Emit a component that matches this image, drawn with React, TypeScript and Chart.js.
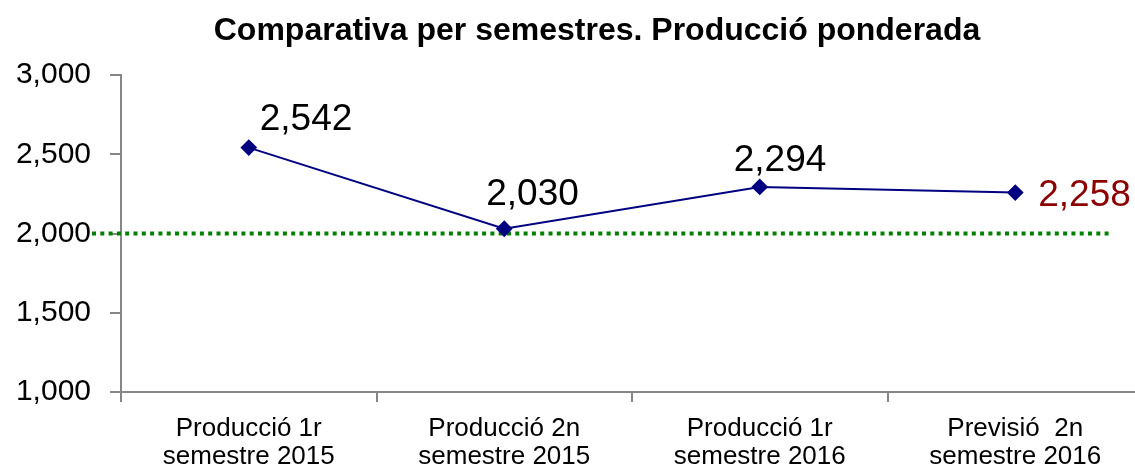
import React, { useEffect, useRef } from "react";
import { Chart, registerables } from "chart.js";

Chart.register(...registerables);

const categories: string[][] = [
  ["Producció 1r", "semestre 2015"],
  ["Producció 2n", "semestre 2015"],
  ["Producció 1r", "semestre 2016"],
  ["Previsió  2n", "semestre 2016"],
];
const values: number[] = [2542, 2030, 2294, 2258];
const referenceValue = 2000;
const yTicks: number[] = [1000, 1500, 2000, 2500, 3000];
const titleText = "Comparativa per semestres. Producció ponderada";

// label placement (style only)
const labelPlacement = [
  { dx: 11, dy: -18, color: "#000000" },
  { dx: -18, dy: -24, color: "#000000" },
  { dx: -26, dy: -16, color: "#000000" },
  { dx: 23, dy: 13, color: "#8B0000" },
];

const FONT = "'Liberation Sans', Arial, sans-serif";
const fmt = (v: number) => v.toLocaleString("en-US");

export default function App() {
  const ref = useRef<HTMLCanvasElement | null>(null);

  useEffect(() => {
    if (!ref.current) return;

    const titlePlugin = {
      id: "customTitle",
      afterDraw(chart: any) {
        const { ctx, chartArea } = chart;
        ctx.save();
        ctx.font = `bold 32px ${FONT}`;
        ctx.fillStyle = "#000000";
        ctx.textAlign = "center";
        ctx.textBaseline = "alphabetic";
        ctx.fillText(titleText, (chartArea.left + chartArea.right) / 2 - 35, 40);
        ctx.restore();
      },
    };

    const refLine = {
      id: "refLine",
      beforeDatasetsDraw(chart: any) {
        const { ctx, chartArea, scales } = chart;
        const y = scales.y.getPixelForValue(referenceValue);
        ctx.save();
        ctx.strokeStyle = "#008000";
        ctx.lineWidth = 4;
        ctx.setLineDash([4, 4.3]);
        ctx.beginPath();
        ctx.moveTo(chartArea.left - 29, y);
        ctx.lineTo(chartArea.right - 34, y);
        ctx.stroke();
        ctx.restore();
      },
    };

    const dataLabels = {
      id: "dataLabels",
      afterDatasetsDraw(chart: any) {
        const { ctx } = chart;
        const meta = chart.getDatasetMeta(0);
        ctx.save();
        ctx.font = `37px ${FONT}`;
        ctx.textBaseline = "alphabetic";
        ctx.textAlign = "left";
        meta.data.forEach((pt: any, i: number) => {
          const p = labelPlacement[i];
          ctx.fillStyle = p.color;
          ctx.fillText(fmt(values[i]), pt.x + p.dx, pt.y + p.dy);
        });
        ctx.restore();
      },
    };

    const chart = new Chart(ref.current, {
      type: "line",
      data: {
        labels: categories,
        datasets: [
          {
            data: values,
            borderColor: "#000080",
            backgroundColor: "#000080",
            borderWidth: 2,
            pointStyle: "rectRot",
            pointRadius: 7,
            pointBackgroundColor: "#000080",
            pointBorderColor: "#000080",
            tension: 0,
          },
        ],
      },
      options: {
        responsive: false,
        animation: false,
        layout: { padding: { left: 0, right: 17, top: 75, bottom: 0 } },
        plugins: {
          legend: { display: false },
          tooltip: { enabled: false },
          title: { display: false },
        },
        scales: {
          x: {
            offset: true,
            grid: {
              display: true,
              offset: true,
              drawOnChartArea: false,
              drawTicks: true,
              tickLength: 10,
              color: "#868686",
              lineWidth: 2,
            },
            border: { display: true, color: "#868686", width: 2 },
            ticks: {
              color: "#000000",
              font: { family: FONT, size: 26, lineHeight: 1.08 },
              padding: 13,
              maxRotation: 0,
              autoSkip: false,
            },
            afterFit(scale: any) {
              scale.height = 75;
            },
          },
          y: {
            min: 1000,
            max: 3000,
            afterBuildTicks(scale: any) {
              scale.ticks = yTicks.map((v) => ({ value: v }));
            },
            grid: {
              display: true,
              drawOnChartArea: false,
              drawTicks: true,
              tickLength: 11,
              color: "#868686",
              lineWidth: 2,
            },
            border: { display: true, color: "#868686", width: 2 },
            ticks: {
              color: "#000000",
              font: { family: FONT, size: 30 },
              padding: 19,
              callback: (v: any) => fmt(Number(v)),
            },
            afterFit(scale: any) {
              scale.width = 121;
            },
          },
        },
      },
      plugins: [refLine, dataLabels, titlePlugin],
    });

    return () => chart.destroy();
  }, []);

  return (
    <div style={{ position: "fixed", left: 0, top: 0, width: 1160, height: 467, background: "#fff" }}>
      <canvas ref={ref} width={1160} height={467} />
    </div>
  );
}
